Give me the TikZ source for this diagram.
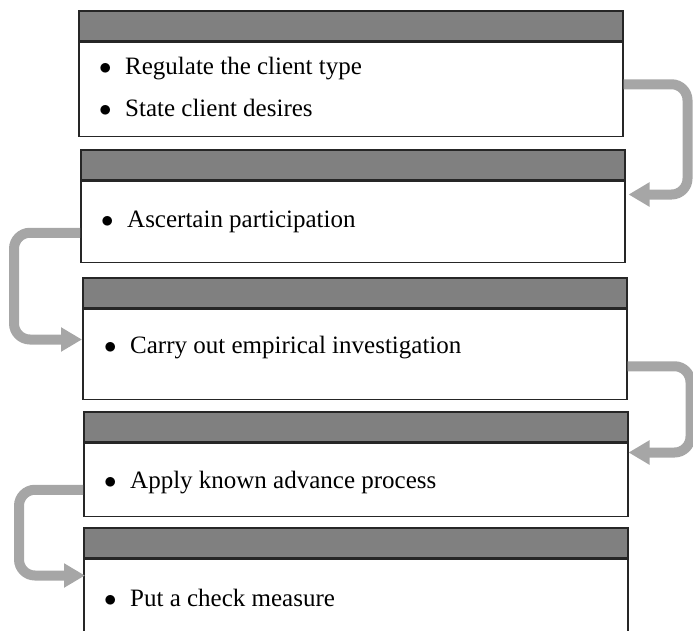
\documentclass[tikz,border=0pt]{standalone}
\usepackage{fontspec}
\setmainfont{Liberation Serif}
\usetikzlibrary{arrows.meta}
\definecolor{headgray}{RGB}{128,128,128}
\definecolor{loopgray}{RGB}{166,166,166}
\tikzset{
    head/.style={draw=black!85,line width=1.5pt,fill=headgray,minimum width=544pt,minimum height=30pt,anchor=north west,inner sep=0pt},
    body/.style={draw=black!85,line width=1.5pt,fill=white,minimum width=544pt,anchor=north west,inner sep=0pt},
    item/.style={anchor=west,inner sep=0pt,font=\fontsize{25}{30}\selectfont},
    loop/.style={draw=loopgray,line width=10pt,rounded corners=16pt,-{Triangle[length=21pt,width=23pt]}}
}
\newcommand{\bul}{\makebox[26pt][l]{$\bullet$}}
\begin{document}
\begin{tikzpicture}[x=1pt,y=-1pt]
                  \useasboundingbox (0,0) rectangle (693,630);
                  \node[head] (h1) at (78,10) {};
                  \node[body,minimum height=94pt] (b1) at (h1.south west) {};
                  \node[head] (h2) at (80,149) {};
                  \node[body,minimum height=81pt] (b2) at (h2.south west) {};
                  \node[head] (h3) at (82,277) {};
                  \node[body,minimum height=90pt] (b3) at (h3.south west) {};
                  \node[head] (h4) at (83,411) {};
                  \node[body,minimum height=73pt] (b4) at (h4.south west) {};
                  \node[head] (h5) at (83,527) {};
                  \node[body,minimum height=73pt] (b5) at (h5.south west) {};
                  \node[item] (t1) at (99,69) {\bul Regulate the client type};
                  \node[item] (t2) at (99,108) {\bul State client desires};
                  \node[item] (t3) at (101,222) {\bul Ascertain participation};
                  \node[item] (t4) at (104,348) {\bul Carry out empirical investigation};
                  \node[item] (t5) at (104,483) {\bul Apply known advance process};
                  \node[item] (t6) at (104,598) {\bul Put a check measure};
                  \draw[loop] ([yshift=5pt]b1.east) -- ++(64,0) |- ([xshift=3pt,yshift=-14pt]b2.north east);
                  \draw[loop] ([yshift=-11pt]b2.west) -- ++(-66,0) |- ([yshift=-31pt]b3.north west);
                  \draw[loop] ([yshift=-12pt]b3.east) -- ++(63,0) |- ([yshift=-10pt]b4.north east);
                  \draw[loop] ([yshift=-10pt]b4.west) -- ++(-64,0) |- ([xshift=2pt,yshift=-17pt]b5.north west);
              \end{tikzpicture}
\end{document}
